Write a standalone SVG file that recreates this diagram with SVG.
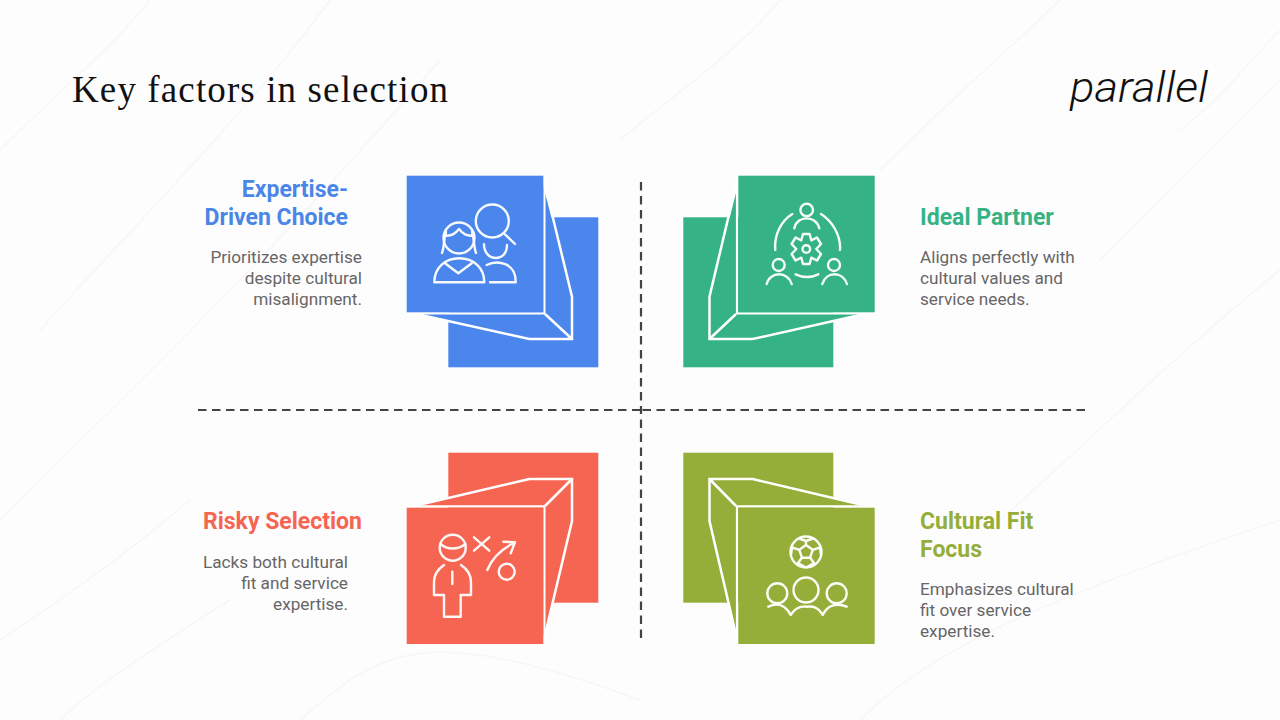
<svg xmlns="http://www.w3.org/2000/svg" width="1280" height="720" viewBox="0 0 1280 720">
<style>
.bg{fill:none;stroke:#f8f5f8;stroke-width:1.5}
.wl{fill:none;stroke:#fff;stroke-width:2.5;stroke-linejoin:miter}
.ed{fill:none;stroke:#fff;stroke-width:2.2}
.ic{fill:none;stroke:#fff;stroke-width:2.4;stroke-opacity:.95;stroke-linecap:round;stroke-linejoin:round}
.h{font-family:Roboto,"Liberation Sans",sans-serif;font-weight:700;font-size:23px}
.b{font-family:Roboto,"Liberation Sans",sans-serif;font-size:17.2px;fill:#666}
.r{text-anchor:end}
.dash{fill:none;stroke:#444;stroke-width:2.2;stroke-dasharray:8.5 5.5}
.blue{fill:#4a86ec}.green{fill:#35b385}.red{fill:#f56552}.olive{fill:#94ae39}
</style>
<rect width="1280" height="720" fill="#fefdfe"/>
<g id="background">
<path class="bg" d="M0 150C60 90 110 50 150 0M40 330C130 230 250 110 330 0M0 520C120 400 260 270 440 60M620 140C680 90 740 50 780 0M880 170C960 90 1020 40 1060 0M1100 260C1170 190 1230 130 1280 80M1000 520C1080 450 1180 350 1280 270M60 720C90 690 150 650 230 600M300 720C380 650 420 620 640 700M860 720C930 650 1040 600 1280 520M1180 130C1220 100 1250 60 1280 30M0 640C60 600 120 560 190 500"/>
</g>
<text x="72" y="102" font-family="'Liberation Serif',serif" font-size="37" fill="#111" textLength="376" lengthAdjust="spacing">Key factors in selection</text>
<text id="logo" x="1070" y="102" font-family="Roboto,'Liberation Sans',sans-serif" font-style="italic" font-weight="300" font-size="42" fill="#111" textLength="138" lengthAdjust="spacingAndGlyphs">parallel</text>
<g id="connectors">
<path class="dash" d="M198 410H641"/>
<path class="dash" d="M1085 410H641"/>
<path class="dash" d="M641 182V410"/>
<path class="dash" d="M641 638V410"/>
</g>
<g id="node-expertise">
<rect class="blue" x="448.300" y="217.300" width="150" height="150"/>
<path class="blue" d="M543 185L572 296.700V339H529.300L412 313H543Z"/>
<path class="wl" d="M545 185L572 296.700V339H529.300L412 313M545 314L572 339"/>
<path class="ed" d="M544.400 176V313.300H407"/>
<rect class="blue" x="406.700" y="175.700" width="136.600" height="136.600"/>
<g class="ic">
<circle cx="492.300" cy="221" r="16.500"/><path d="M505 234.300L515 244"/>
<circle cx="459" cy="238" r="15.500"/>
<path d="M442 253C444 248 444 238 446 232M476 253C474 248 474 238 472 232M444 236C452 236 455 234 459 229C463 234 466 236 474 236"/>
<path d="M434.300 282.300C434.300 268 445 258.300 459.300 258.300C473.600 258.300 484.300 268 484.300 282.300Z"/>
<path d="M445 263.300L458.300 273.300L471.700 263.300"/>
<path d="M484 244.300C484 262 507 263 507 245"/>
<path d="M486.700 265C497 260 516 262 515.700 282.300H490"/>
</g>
<text class="h r" x="348" y="196.500" style="fill:#4a86e8">Expertise-</text>
<text class="h r" x="348" y="224.500" style="fill:#4a86e8">Driven Choice</text>
<text class="b r" x="362" y="263">Prioritizes expertise</text>
<text class="b r" x="362" y="284">despite cultural</text>
<text class="b r" x="362" y="305">misalignment.</text>
</g>
<g id="node-ideal">
<rect class="green" x="683.300" y="217.300" width="150" height="150"/>
<path class="green" d="M738 185L709.500 296.700V339H752.700L869 313H738Z"/>
<path class="wl" d="M736 185L709.500 296.700V339H752.700L869 313M736 314L709.500 339"/>
<path class="ed" d="M737 176V313.300H874"/>
<rect class="green" x="738.300" y="175.700" width="136.400" height="136.600"/>
<g class="ic">
<circle cx="806.700" cy="210" r="6.300"/><path d="M794.300 228.300C797 215 816 215 819.300 228.300"/>
<circle cx="778.700" cy="265" r="6"/><path d="M766.700 284C770 271 788 271 791.700 284"/>
<circle cx="834" cy="265" r="6"/><path d="M822.300 284C826 271 843 271 847 284"/>
<path d="M792.300 214C781 221 774 235 775.300 250M821 214C832 221 841 235 840 250M795.700 274.300C803 277.800 811 277.800 818.300 274.300"/>
<path d="M803 234H809.600L811.300 240.300L817 237.500L821 244L816.300 249L821 254L817 260.500L811.300 257.700L809.600 264H803L801.300 257.700L795.600 260.500L791.600 254L796.300 249L791.600 244L795.600 237.500L801.300 240.300Z"/>
<circle cx="806.300" cy="249" r="3.800"/>
</g>
<text class="h" x="920" y="224.500" style="fill:#35b385">Ideal Partner</text>
<text class="b" x="920" y="263">Aligns perfectly with</text>
<text class="b" x="920" y="284">cultural values and</text>
<text class="b" x="920" y="305">service needs.</text>
</g>
<g id="node-risky">
<rect class="red" x="448.300" y="452.700" width="150" height="150"/>
<path class="red" d="M412 506.500L529.300 479H572V521L545 635H543V506.500Z"/>
<path class="wl" d="M412 506.500L529.300 479H572V521L545 635M545 506L572 479"/>
<path class="ed" d="M407 506.400H544.400V643.500"/>
<rect class="red" x="406.700" y="507.700" width="136.600" height="136.300"/>
<g class="ic">
<circle cx="452.700" cy="547.700" r="13"/>
<path d="M440.500 544C447 550 458 550 465.500 544"/>
<path d="M444 565C438 569 434 575 434 582V595H444V616.700H460.700V595H471V582C471 575 467 569 461 565"/>
<path d="M452.300 571.700V584"/>
<path d="M474 537.300L489.300 550.700M489.300 537.300L474 550.700"/>
<path d="M487.300 570C492 558 502 549 513.300 543.300M503.300 541.700L515 542.300L510.700 553.300"/>
<circle cx="506.700" cy="571.700" r="8"/>
</g>
<text class="h r" x="362" y="528.500" style="fill:#f56552">Risky Selection</text>
<text class="b r" x="348" y="568">Lacks both cultural</text>
<text class="b r" x="348" y="589">fit and service</text>
<text class="b r" x="348" y="610">expertise.</text>
</g>
<g id="node-cultural">
<rect class="olive" x="683.300" y="452.700" width="150" height="150"/>
<path class="olive" d="M869 506.500L752.700 479H709.500V521L736 635H738V506.500Z"/>
<path class="wl" d="M869 506.500L752.700 479H709.500V521L736 635M736 506L709.500 479"/>
<path class="ed" d="M874 506.400H737V643.500"/>
<rect class="olive" x="738.300" y="507.700" width="136.400" height="136.300"/>
<g class="ic">
<circle cx="806" cy="552" r="15.500"/>
<path d="M806 545L812.700 549.800L810.100 557.700H801.900L799.300 549.800Z"/>
<path d="M806 545V541M812.700 549.800L820 547.500M810.100 557.700L814 563M801.900 557.700L798 563M799.300 549.800L792 547.500M799 538.500L806 541L813 538.500M820 547.500L821 555M814 563L807 567M798 563L805 567M792 547.500L791 555"/>
<circle cx="777.300" cy="593.300" r="10"/>
<circle cx="806" cy="590" r="12.500"/>
<circle cx="836.700" cy="593.300" r="10"/>
<path d="M768.300 606.700C778 602 786 606 790.700 615C796 607 801 606 806.700 606.700C813 606 818 607 822.700 615C827 606 836 602 846.700 606.700"/>
</g>
<text class="h" x="920" y="528.500" style="fill:#94ae39">Cultural Fit</text>
<text class="h" x="920" y="556.500" style="fill:#94ae39">Focus</text>
<text class="b" x="920" y="595">Emphasizes cultural</text>
<text class="b" x="920" y="616">fit over service</text>
<text class="b" x="920" y="637">expertise.</text>
</g>
</svg>
